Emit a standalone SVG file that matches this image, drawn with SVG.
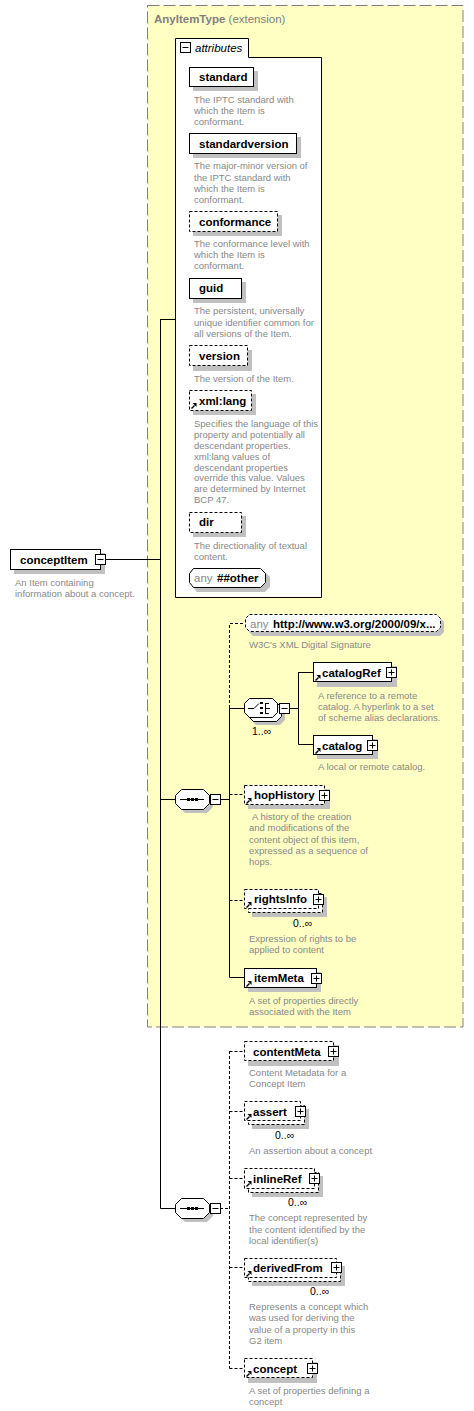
<svg xmlns="http://www.w3.org/2000/svg" xmlns:xlink="http://www.w3.org/1999/xlink" width="474" height="1411" viewBox="0 0 474 1411">
<style>
.d{font-family:"Liberation Sans",Arial,sans-serif;font-size:9.5px;fill:#888}
.l{font-family:"Liberation Sans",Arial,sans-serif;font-size:11.5px;font-weight:bold;fill:#000}
.g{font-family:"Liberation Sans",Arial,sans-serif;font-size:11.5px;fill:#888}
.c{font-family:"Liberation Sans",Arial,sans-serif;font-size:10.5px;fill:#000}
.t{font-family:"Liberation Sans",Arial,sans-serif;font-size:11.5px;fill:#808080}
.sh{fill:#c0c0c0}
.bx{fill:#fff;stroke:#000;stroke-width:1}
.dx{fill:#fff;stroke:#000;stroke-width:1;stroke-dasharray:3 2}
.ln{fill:none;stroke:#000;stroke-width:1}
.dl{fill:none;stroke:#000;stroke-width:1;stroke-dasharray:3 2}
</style>
<defs>
<g id="plus"><rect x="0.5" y="0.5" width="10" height="10" fill="#fff" stroke="#000"/><path d="M2.5 5.5H8.5M5.5 2.5V8.5" stroke="#000" fill="none"/></g>
<g id="minus"><rect x="0.5" y="0.5" width="10" height="10" fill="#fff" stroke="#000"/><path d="M2.5 5.5H8.5" stroke="#000" fill="none"/></g>
<g id="ref"><path d="M0.5 5.5L3.5 2.5" stroke="#000" stroke-width="1.5" fill="none"/><path d="M1.5 0H5.5V4Z" fill="#000"/></g>
<g id="seqicon"><path d="M0 0.5H24" stroke="#000" fill="none"/><rect x="7" y="-1" width="3" height="3" fill="#000"/><rect x="11" y="-1" width="3" height="3" fill="#000"/><rect x="15" y="-1" width="3" height="3" fill="#000"/></g>
</defs>

<!-- extension background -->
<g id="AnyItemType">
<rect x="147.5" y="5.5" width="315.5" height="1021.5" fill="#ffffc4" stroke="#808080" stroke-dasharray="12 4"/>
<text x="154" y="23" class="t"><tspan font-weight="bold">AnyItemType</tspan> (extension)</text>
</g>

<!-- connectors -->
<g id="connectors">
<path class="ln" d="M106 559.5H160.5M160.5 319V1208.5M160.5 319.5H175.5M160.5 799.5H175M160.5 1208.5H175"/>
<path class="ln" d="M220 799.5H229.5M229.5 708V977.5M229.5 708.5H244M229.5 977.5H244"/>
<path class="dl" d="M229.5 708V623.5H245M229.5 794.5H244M229.5 900.5H244"/>
<path class="ln" d="M289 708.5H298.5M298.5 672V744.5M298.5 672.5H313M298.5 744.5H313"/>
<path class="dl" d="M220 1208.5H229.5M229.5 1051V1368.5M229.5 1051.5H244M229.5 1111.5H244M229.5 1178.5H244M229.5 1267.5H244M229.5 1368.5H244"/>
</g>

<!-- conceptItem -->
<g id="conceptItem">
<rect class="sh" x="14" y="553" width="91" height="21"/>
<rect class="bx" x="10.5" y="549.5" width="90" height="20"/>
<text class="l" x="20" y="563.5">conceptItem</text>
<use href="#minus" x="95" y="554"/>
<text class="d" x="15"><tspan x="15" y="586">An Item containing</tspan><tspan x="15" y="597">information about a concept.</tspan></text>
</g>

<!-- attributes -->
<g id="attributes">
<path d="M175.5 38.5H248.5V57.5H321.5V597.5H175.5Z" fill="#fff" stroke="#000"/>
<use href="#minus" x="180" y="42"/>
<text x="195" y="52" font-family="Liberation Sans, Arial, sans-serif" font-size="11.5" font-style="italic">attributes</text>
</g>

<g id="a-standard">
<rect class="sh" x="193" y="71" width="65" height="20"/>
<rect class="bx" x="189.5" y="67.5" width="64" height="19"/>
<text class="l" x="199" y="81">standard</text>
<text class="d"><tspan x="194" y="102.5">The IPTC standard with</tspan><tspan x="194" y="113.5">which the Item is</tspan><tspan x="194" y="124.5">conformant.</tspan></text>
</g>
<g id="a-standardversion">
<rect class="sh" x="193" y="137" width="108" height="21"/>
<rect class="bx" x="189.5" y="133.5" width="107" height="20"/>
<text class="l" x="199" y="147.5">standardversion</text>
<text class="d"><tspan x="194" y="169">The major-minor version of</tspan><tspan x="194" y="180.5">the IPTC standard with</tspan><tspan x="194" y="191.5">which the Item is</tspan><tspan x="194" y="202.5">conformant.</tspan></text>
</g>
<g id="a-conformance">
<rect class="sh" x="193" y="215" width="89" height="21"/>
<rect class="dx" x="189.5" y="211.5" width="88" height="20"/>
<text class="l" x="199" y="225.5">conformance</text>
<text class="d"><tspan x="194" y="246.5">The conformance level with</tspan><tspan x="194" y="258">which the Item is</tspan><tspan x="194" y="269">conformant.</tspan></text>
</g>
<g id="a-guid">
<rect class="sh" x="193" y="282" width="53" height="21"/>
<rect class="bx" x="189.5" y="278.5" width="52" height="20"/>
<text class="l" x="199" y="292">guid</text>
<text class="d"><tspan x="194" y="314">The persistent, universally</tspan><tspan x="194" y="325.5">unique identifier common for</tspan><tspan x="194" y="337">all versions of the Item.</tspan></text>
</g>
<g id="a-version">
<rect class="sh" x="193" y="350" width="59" height="21"/>
<rect class="dx" x="189.5" y="345.5" width="58" height="20"/>
<text class="l" x="199" y="359.5">version</text>
<text class="d" x="194" y="381.5">The version of the Item.</text>
</g>
<g id="a-xmllang">
<rect class="sh" x="193" y="394" width="63" height="21"/>
<rect class="dx" x="189.5" y="390.5" width="62" height="20"/>
<use href="#ref" x="191" y="403"/>
<text class="l" x="199" y="404.5">xml:lang</text>
<text class="d"><tspan x="194" y="427">Specifies the language of this</tspan><tspan x="194" y="438">property and potentially all</tspan><tspan x="194" y="448.5">descendant properties.</tspan><tspan x="194" y="459.5">xml:lang values of</tspan><tspan x="194" y="470.5">descendant properties</tspan><tspan x="194" y="481">override this value. Values</tspan><tspan x="194" y="492">are determined by Internet</tspan><tspan x="194" y="503">BCP 47.</tspan></text>
</g>
<g id="a-dir">
<rect class="sh" x="193" y="516" width="53" height="21"/>
<rect class="dx" x="189.5" y="512.5" width="52" height="20"/>
<text class="l" x="199" y="526">dir</text>
<text class="d"><tspan x="194" y="548.5">The directionality of textual</tspan><tspan x="194" y="559.5">content.</tspan></text>
</g>
<g id="a-anyother">
<path class="sh" d="M197 572H265L270 577V587L265 592H197L193 587V577Z"/>
<path class="bx" d="M193.5 568.5H260.5L265.5 573.5V582.5L260.5 587.5H193.5L189.5 582.5V573.5Z"/>
<text x="194" y="582"><tspan class="g">any</tspan><tspan class="l" x="217">##other</tspan></text>
</g>

<!-- sequence 1 -->
<g id="sequence1">
<path class="sh" d="M185 793H207L213 799V807L207 813H185L179 807V799Z"/>
<path class="bx" d="M181.5 789.5H203.5L209.5 795.5V803.5L203.5 809.5H181.5L175.5 803.5V795.5Z"/>
<use href="#seqicon" x="180" y="799"/>
<use href="#minus" x="210" y="794"/>
</g>

<g id="e-anysig">
<path class="sh" d="M253 618H440L444 622V632L440 636H253L249 632V622Z"/>
<path class="dx" d="M249.5 614.5H436.5L440.5 618.5V627.5L436.5 631.5H249.5L245.5 627.5V618.5Z"/>
<text x="250" y="627.5"><tspan class="g">any</tspan><tspan class="l" x="273">http://www.w3.org/2000/09/x...</tspan></text>
<text class="d" x="249" y="647.5">W3C's XML Digital Signature</text>
</g>

<g id="choice">
<path class="sh" d="M256 706H280L285 711V720L280 725H256L251 720V711Z"/>
<path class="bx" d="M253.5 702.5H276.5L281.5 707.5V716.5L276.5 721.5H253.5L248.5 716.5V707.5Z"/>
<path class="bx" d="M249.5 698.5H272.5L277.5 703.5V712.5L272.5 717.5H249.5L244.5 712.5V703.5Z"/>
<path class="ln" d="M248 708.5H254L259 703.5M265.5 703V714M265.5 703.5H269M265.5 708.5H270M265.5 713.5H269"/>
<rect x="260" y="702" width="3" height="2" fill="#000"/>
<rect x="260" y="707" width="3" height="2" fill="#000"/>
<rect x="260" y="712" width="3" height="2" fill="#000"/>
<use href="#minus" x="279" y="703"/>
<text class="c" x="252" y="735">1..∞</text>
</g>

<g id="e-catalogRef">
<rect class="sh" x="317" y="666" width="80" height="21"/>
<rect class="bx" x="313.5" y="662.5" width="78" height="19"/>
<use href="#ref" x="315" y="675"/>
<text class="l" x="322" y="676.5">catalogRef</text>
<use href="#plus" x="386" y="667"/>
<text class="d"><tspan x="318" y="698.5">A reference to a remote</tspan><tspan x="318" y="709.5">catalog. A hyperlink to a set</tspan><tspan x="318" y="720.5">of scheme alias declarations.</tspan></text>
</g>
<g id="e-catalog">
<rect class="sh" x="317" y="739" width="61" height="20"/>
<rect class="bx" x="313.5" y="735.5" width="59" height="19"/>
<use href="#ref" x="315" y="748"/>
<text class="l" x="322" y="749.5">catalog</text>
<use href="#plus" x="367" y="740"/>
<text class="d" x="318" y="770">A local or remote catalog.</text>
</g>

<g id="e-hopHistory">
<rect class="sh" x="248" y="789" width="82" height="20"/>
<rect class="dx" x="244.5" y="785.5" width="80" height="19"/>
<use href="#ref" x="246" y="798"/>
<text class="l" x="254" y="799">hopHistory</text>
<use href="#plus" x="319" y="790"/>
<text class="d"><tspan x="252" y="820">A history of the creation</tspan><tspan x="249" y="831">and modifications of the</tspan><tspan x="249" y="842.5">content object of this item,</tspan><tspan x="249" y="853.5">expressed as a sequence of</tspan><tspan x="249" y="864.5">hops.</tspan></text>
</g>

<g id="e-rightsInfo">
<rect class="sh" x="252" y="897" width="75" height="20"/>
<rect class="dx" x="248.5" y="893.5" width="74" height="19"/>
<rect class="dx" x="244.5" y="889.5" width="74" height="19"/>
<use href="#ref" x="246" y="902"/>
<text class="l" x="254" y="903">rightsInfo</text>
<use href="#plus" x="313" y="894"/>
<text class="c" x="293" y="927">0..∞</text>
<text class="d"><tspan x="249" y="941.5">Expression of rights to be</tspan><tspan x="249" y="952.5">applied to content</tspan></text>
</g>

<g id="e-itemMeta">
<rect class="sh" x="248" y="972" width="73" height="20"/>
<rect class="bx" x="244.5" y="968.5" width="72" height="19"/>
<use href="#ref" x="246" y="981"/>
<text class="l" x="254" y="982">itemMeta</text>
<use href="#plus" x="311" y="973"/>
<text class="d"><tspan x="249" y="1003.5">A set of properties directly</tspan><tspan x="249" y="1014.5">associated with the Item</tspan></text>
</g>

<!-- sequence 2 -->
<g id="sequence2">
<path class="sh" d="M185 1202H207L213 1208V1216L207 1222H185L179 1216V1208Z"/>
<path class="bx" d="M181.5 1198.5H203.5L209.5 1204.5V1212.5L203.5 1218.5H181.5L175.5 1212.5V1204.5Z"/>
<use href="#seqicon" x="180" y="1208"/>
<use href="#minus" x="210" y="1203"/>
</g>

<g id="e-contentMeta">
<rect class="sh" x="248" y="1045" width="91" height="21"/>
<rect class="dx" x="244.5" y="1041.5" width="89" height="19"/>
<text class="l" x="253" y="1055.5">contentMeta</text>
<use href="#plus" x="328" y="1046"/>
<text class="d"><tspan x="249" y="1075.5">Content Metadata for a</tspan><tspan x="249" y="1087">Concept Item</tspan></text>
</g>

<g id="e-assert">
<rect class="sh" x="252" y="1109" width="57" height="20"/>
<rect class="dx" x="248.5" y="1105.5" width="56" height="19"/>
<rect class="dx" x="244.5" y="1101.5" width="56" height="19"/>
<use href="#ref" x="246" y="1114"/>
<text class="l" x="253" y="1115.5">assert</text>
<use href="#plus" x="295" y="1106"/>
<text class="c" x="275" y="1139">0..∞</text>
<text class="d" x="249" y="1154">An assertion about a concept</text>
</g>

<g id="e-inlineRef">
<rect class="sh" x="252" y="1176" width="71" height="21"/>
<rect class="dx" x="248.5" y="1172.5" width="70" height="20"/>
<rect class="dx" x="244.5" y="1168.5" width="70" height="20"/>
<use href="#ref" x="246" y="1181"/>
<text class="l" x="253" y="1182.5">inlineRef</text>
<use href="#plus" x="309" y="1173"/>
<text class="c" x="288" y="1205.5">0..∞</text>
<text class="d"><tspan x="249" y="1221">The concept represented by</tspan><tspan x="249" y="1232.5">the content identified by the</tspan><tspan x="249" y="1243.5">local identifier(s)</tspan></text>
</g>

<g id="e-derivedFrom">
<rect class="sh" x="252" y="1266" width="93" height="20"/>
<rect class="dx" x="248.5" y="1262.5" width="92" height="19"/>
<rect class="dx" x="244.5" y="1258.5" width="92" height="19"/>
<use href="#ref" x="246" y="1271"/>
<text class="l" x="253" y="1272">derivedFrom</text>
<use href="#plus" x="331" y="1262"/>
<text class="c" x="310" y="1295">0..∞</text>
<text class="d"><tspan x="249" y="1310">Represents a concept which</tspan><tspan x="249" y="1321">was used for deriving the</tspan><tspan x="249" y="1332.5">value of a property in this</tspan><tspan x="249" y="1343.5">G2 item</tspan></text>
</g>

<g id="e-concept">
<rect class="sh" x="248" y="1362" width="69" height="21"/>
<rect class="dx" x="244.5" y="1358.5" width="68" height="19"/>
<use href="#ref" x="246" y="1371"/>
<text class="l" x="253" y="1372.5">concept</text>
<use href="#plus" x="307" y="1363"/>
<text class="d"><tspan x="249" y="1393.5">A set of properties defining a</tspan><tspan x="249" y="1404.5">concept</tspan></text>
</g>
</svg>
